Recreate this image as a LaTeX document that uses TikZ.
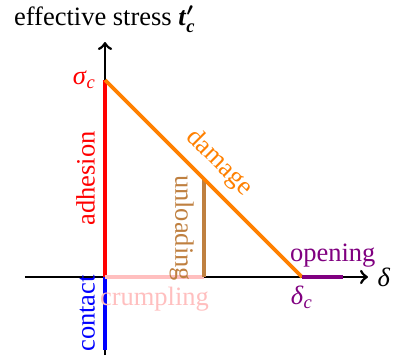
\documentclass[tikz,border=0pt]{standalone}
\usepackage{amsmath}
\usepackage{fontspec}
\setmainfont{Liberation Serif}
\usepackage{tikz}

\begin{document}
\begin{tikzpicture}[x=0.4pt,y=0.4pt,font=\fontsize{10.6}{13}\selectfont,
  axis/.style={line width=1.1pt,->},
  branch/.style={line width=1.5pt}]
  \useasboundingbox (-105,-85) rectangle (289,277);
  % points of the law
  \coordinate (O) at (0,0);
  \coordinate (ytop) at (0,235);
  \coordinate (ybot) at (0,-78);
  \coordinate (xleft) at (-80,0);
  \coordinate (xright) at (263,0);
  \coordinate (S) at (0,197);
  \coordinate (D) at (197,0);
  \coordinate (U) at (99,98);
  \coordinate (Ub) at (99,0);
  \coordinate (C) at (0,-73);
  \coordinate (P) at (238,0);
  % axes
  \draw[axis] (ybot) -- (ytop) node[above] (title) {effective stress \textbf{\textit{t}}${}^{\boldsymbol{\prime}}_{\textbf{\textit{c}}}$};
  \draw[axis] (xleft) -- (xright) node[right] (dlab) {\textit{δ}};
  % branches
  \draw[branch,red] (O) -- (S) node[midway,sloped,above] (adh) {adhesion};
  \node[red,left] (sig) at (S) {\textit{σ}$_{\textit{c}}$};
  \draw[branch,blue] (C) -- (O) node[midway,sloped,above] (con) {contact};
  \draw[branch,pink] (O) -- (Ub) node[midway,below] (cru) {crumpling};
  \draw[branch,brown] (U) -- (Ub) node[midway,sloped,below] (unl) {unloading};
  \draw[branch,orange] (S) -- (D) node[midway,sloped,above] (dam) {damage};
  \draw[branch,violet] (D) -- (P) node[pos=0.75,above] (ope) {opening};
  \node[violet,below] (dc) at (D) {\textit{δ}$_{\textit{c}}$};
\end{tikzpicture}
\end{document}
